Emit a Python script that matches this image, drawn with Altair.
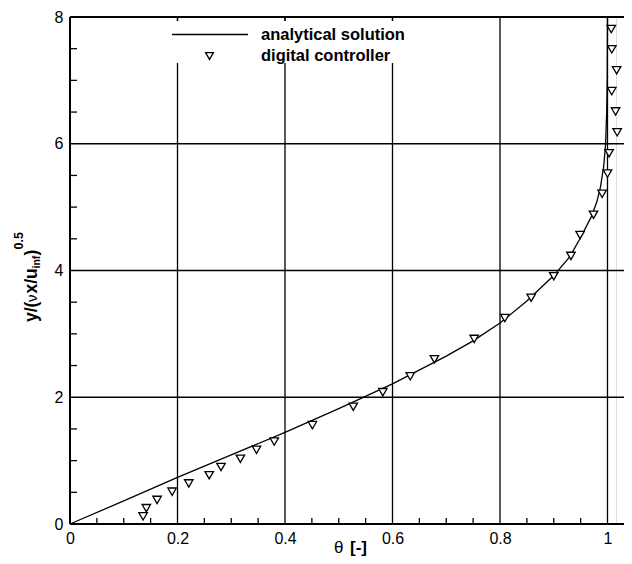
import altair as alt
import pandas as pd

# ---------------- data ----------------
ana_theta = [0.0, 0.1, 0.2, 0.3, 0.4, 0.5, 0.6, 0.7, 0.75, 0.8, 0.85, 0.9, 0.93,
             0.95, 0.97, 0.98, 0.987, 0.993, 0.9965, 0.9985, 0.9995, 1.0]
ana_eta = [0.0, 0.365, 0.735, 1.09, 1.445, 1.82, 2.21, 2.65, 2.89, 3.17, 3.52, 3.92, 4.22,
           4.52, 4.85, 5.08, 5.32, 5.65, 6.0, 6.5, 7.0, 8.0]

dc_theta = [0.136, 0.142, 0.162, 0.190, 0.221, 0.259, 0.281, 0.317, 0.347, 0.380, 0.451,
            0.527, 0.582, 0.633, 0.678, 0.752, 0.809, 0.858, 0.900, 0.932, 0.949, 0.974,
            0.990, 1.000, 1.003, 1.018, 1.015, 1.008, 1.017, 1.008, 1.007]
dc_eta = [0.12, 0.25, 0.38, 0.51, 0.64, 0.77, 0.90, 1.03, 1.17, 1.30, 1.56,
          1.85, 2.08, 2.33, 2.60, 2.92, 3.25, 3.57, 3.91, 4.23, 4.56, 4.88,
          5.21, 5.53, 5.85, 6.18, 6.51, 6.83, 7.16, 7.49, 7.81]

x_ticks = [0, 0.2, 0.4, 0.6, 0.8, 1.0]
y_ticks = [0, 2, 4, 6, 8]
x_grid = [0.2, 0.4, 0.6, 0.8, 1.0]
y_grid = [2, 4, 6]
x_minor = [0.05, 0.1, 0.15, 0.25, 0.3, 0.35, 0.45, 0.5, 0.55, 0.65, 0.7, 0.75,
           0.85, 0.9, 0.95]
y_minor = [0.5, 1, 1.5, 2.5, 3, 3.5, 4.5, 5, 5.5, 6.5, 7, 7.5]
top_ticks = [0.2, 0.4, 0.6]

legend_labels = ["analytical solution", "digital controller"]

# ---------------- layout ----------------
W, H = 546, 507
XMAX = W / 537.5
FONT = "Liberation Sans"

xs = alt.Scale(domain=[0, XMAX], nice=False, zero=False)
ys = alt.Scale(domain=[0, 8], nice=False, zero=False)

ana_df = pd.DataFrame({"x": ana_theta, "y": ana_eta, "o": list(range(len(ana_theta)))})
dc_df = pd.DataFrame({"x": dc_theta, "y": dc_eta})
one = pd.DataFrame({"d": [0]})

X_ax = alt.Axis(values=x_ticks, ticks=False, grid=False, domain=False, title=None,
                labelFont=FONT, labelFontSize=16, labelColor="black", labelPadding=6,
                labelFlush=False, labelOverlap=False, format="~g")
Y_ax = alt.Axis(values=y_ticks, ticks=False, grid=False, domain=False, title=None,
                labelFont=FONT, labelFontSize=16, labelColor="black", labelPadding=7,
                labelFlush=False, labelOverlap=False, format="~g")

# gridlines
hgrid = alt.Chart(pd.DataFrame({"y": y_grid})).mark_rule(color="black", strokeWidth=1.3).encode(
    y=alt.Y("y:Q", scale=ys, axis=None), x=alt.value(0), x2=alt.value(W + 8))
vgrid = alt.Chart(pd.DataFrame({"x": x_grid})).mark_rule(color="black", strokeWidth=1.3).encode(
    x=alt.X("x:Q", scale=xs, axis=None), y=alt.value(0), y2=alt.value(H))

# legend box (white, hides gridlines)
legbox = alt.Chart(one).mark_rect(fill="white").encode(
    x=alt.value(95), x2=alt.value(345), y=alt.value(4), y2=alt.value(46))

# top ticks
tticks = alt.Chart(pd.DataFrame({"x": top_ticks})).mark_rule(color="black", strokeWidth=1.3).encode(
    x=alt.X("x:Q", scale=xs, axis=None), y=alt.value(0), y2=alt.value(4))

# minor ticks
xminor = alt.Chart(pd.DataFrame({"x": x_minor})).mark_rule(color="black", strokeWidth=1.3).encode(
    x=alt.X("x:Q", scale=xs, axis=None), y=alt.value(H), y2=alt.value(H - 6))
yminor = alt.Chart(pd.DataFrame({"y": y_minor})).mark_rule(color="black", strokeWidth=1.3).encode(
    y=alt.Y("y:Q", scale=ys, axis=None), x=alt.value(0), x2=alt.value(7))

# borders
top_b = alt.Chart(one).mark_rule(color="black", strokeWidth=2).encode(
    x=alt.value(0), x2=alt.value(W + 8), y=alt.value(0))
bot_b = alt.Chart(one).mark_rule(color="black", strokeWidth=2).encode(
    x=alt.value(0), x2=alt.value(W + 8), y=alt.value(H))
left_b = alt.Chart(one).mark_rule(color="black", strokeWidth=2).encode(
    x=alt.value(0), y=alt.value(0), y2=alt.value(H))

# analytical line (carries the axes)
line = alt.Chart(ana_df).mark_line(color="black", strokeWidth=1.3).encode(
    x=alt.X("x:Q", scale=xs, axis=X_ax),
    y=alt.Y("y:Q", scale=ys, axis=Y_ax),
    order="o:Q")

pts = alt.Chart(dc_df).mark_point(shape="triangle-down", fill="white", fillOpacity=1,
                                  stroke="black", strokeWidth=1.3, size=72, opacity=1).encode(
    x=alt.X("x:Q", scale=xs, axis=None),
    y=alt.Y("y:Q", scale=ys, axis=None))

# legend items
leg_line = alt.Chart(one).mark_rule(color="black", strokeWidth=1.3).encode(
    x=alt.value(102), x2=alt.value(178), y=alt.value(17.5))
leg_sym = alt.Chart(one).mark_point(shape="triangle-down", fill="white", fillOpacity=1,
                                    stroke="black", strokeWidth=1.3, size=60, opacity=1).encode(
    x=alt.value(139.5), y=alt.value(39))


def txt(s, x, y, size, bold=True, angle=0, baseline="alphabetic"):
    kw = dict(font=FONT, fontSize=size, fontWeight="bold" if bold else "normal",
              align="left", baseline=baseline, color="black")
    if angle:
        kw["angle"] = angle
    return alt.Chart(pd.DataFrame({"t": [s]})).mark_text(**kw).encode(
        text="t:N", x=alt.value(x), y=alt.value(y))


leg_txt = [
    txt(legend_labels[0], 191, 17.5, 16.5, baseline="middle"),
    txt(legend_labels[1], 191, 39, 16.5, baseline="middle"),
]

BX = -33.5
ytitle = [
    txt("y/(", BX, 305, 17.5, angle=270),
    txt("\u03bd", BX, 285, 15, bold=False, angle=270),
    txt("x/u", BX, 276.5, 17.5, angle=270),
    txt("inf", BX + 3.5, 251.5, 10.5, angle=270),
    txt(")", BX, 238.5, 17.5, angle=270),
    txt("0.5", BX - 14, 232.5, 12.5, angle=270),
]
xtitle = [
    txt("\u03b8", 264, 536, 17, bold=False),
    txt("[-]", 280, 536, 17),
]

chart = alt.layer(
    hgrid, vgrid, legbox, tticks, xminor, yminor, top_b, bot_b, left_b,
    line, pts, leg_line, leg_sym, *leg_txt, *ytitle, *xtitle
).resolve_axis(x="independent", y="independent").properties(
    width=W, height=H,
    autosize=alt.AutoSizeParams(type="none"),
    padding={"left": 62, "top": 9, "right": 8, "bottom": 32},
).configure_view(stroke=None).configure(background="white")

chart.save("out.html", embed_options={"renderer": "svg", "actions": False})
